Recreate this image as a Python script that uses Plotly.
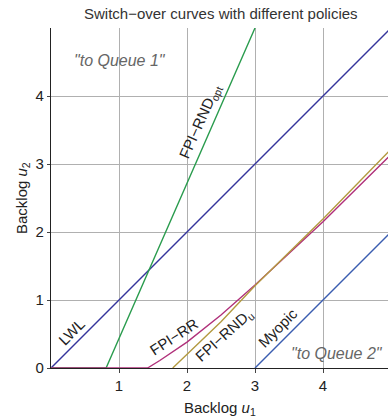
import plotly.graph_objects as go

# ---- data ----
lwl_u1 = [0, 5]
lwl_u2 = [0, 5]

opt_u1 = [0, 0.81, 3.0]
opt_u2 = [0, 0, 5.0]

rr_u1 = [0, 1.42, 1.6, 2.0, 2.5, 3.0, 4.0, 5.0]
rr_u2 = [0, 0, 0.11, 0.38, 0.78, 1.22, 2.15, 3.14]

rndu_u1 = [1.79, 2.5, 3.0, 4.0, 5.0]
rndu_u2 = [0, 0.68, 1.21, 2.19, 3.22]

myo_u1 = [3.0, 5.0]
myo_u2 = [0, 2.0]

x_ticks = [1, 2, 3, 4]
y_ticks = [0, 1, 2, 3, 4]

FONT = "Liberation Sans, Arial, Helvetica, sans-serif"

fig = go.Figure()
series = [
    (lwl_u1, lwl_u2, "#35359c"),
    (opt_u1, opt_u2, "#2a9c4e"),
    (rr_u1, rr_u2, "#b0307a"),
    (rndu_u1, rndu_u2, "#b39a40"),
    (myo_u1, myo_u2, "#3a5db0"),
]
for xs, ys, c in series:
    fig.add_trace(go.Scatter(x=xs, y=ys, mode="lines",
                             line=dict(color=c, width=1.4),
                             showlegend=False, hoverinfo="skip"))

labels = [
    ("LWL", 0.31, 0.53, -45),
    ("FPI\u2212RND<sub>opt</sub>", 2.2, 3.62, -66),
    ("FPI\u2212RR", 1.81, 0.46, -33),
    ("FPI\u2212RND<sub>u</sub>", 2.55, 0.48, -42),
    ("Myopic", 3.34, 0.59, -45),
]
for t, x, y, a in labels:
    fig.add_annotation(x=x, y=y, text=t, textangle=a, showarrow=False,
                       font=dict(family=FONT, size=15, color="#222"))

fig.add_annotation(x=1.02, y=4.52, text='<i>"to Queue 1"</i>', showarrow=False,
                   font=dict(family=FONT, size=16, color="#666"))
fig.add_annotation(x=4.21, y=0.22, text='<i>"to Queue 2"</i>', showarrow=False,
                   font=dict(family=FONT, size=16, color="#666"))

# axis titles and plot title
fig.add_annotation(xref="paper", yref="paper", x=0.5, y=-0.118,
                   xanchor="center", yanchor="middle", showarrow=False,
                   text="Backlog <i>u</i><sub>1</sub>",
                   font=dict(family=FONT, size=15, color="#222"))
fig.add_annotation(xref="paper", yref="paper", x=-0.086, y=0.5,
                   xanchor="center", yanchor="middle", showarrow=False, textangle=-90,
                   text="Backlog <i>u</i><sub>2</sub>",
                   font=dict(family=FONT, size=15, color="#222"))
fig.add_annotation(xref="paper", yref="paper", x=0.505, y=1.044,
                   xanchor="center", yanchor="middle", showarrow=False,
                   text="Switch\u2212over curves with different policies",
                   font=dict(family=FONT, size=15, color="#333"))

fig.update_layout(
    width=388, height=419,
    margin=dict(l=51, r=0, t=28, b=51),
    plot_bgcolor="white", paper_bgcolor="white",
    font=dict(family=FONT, size=15, color="#222"),
)
fig.update_xaxes(range=[0, 337 / 68.0], tickvals=x_ticks, showgrid=True,
                 gridcolor="#b0b0b0", gridwidth=1, zeroline=False,
                 showline=True, linecolor="#222", linewidth=1.2,
                 ticks="outside", ticklen=4, tickcolor="#444",
                 tickfont=dict(family=FONT, size=15, color="#222"))
fig.update_yaxes(range=[0, 5], tickvals=y_ticks, showgrid=True,
                 gridcolor="#b0b0b0", gridwidth=1, zeroline=False,
                 showline=True, linecolor="#222", linewidth=1.2, mirror=True,
                 ticks="outside", ticklen=3, tickcolor="#444",
                 tickfont=dict(family=FONT, size=15, color="#222"))

fig.write_html("out.html")
